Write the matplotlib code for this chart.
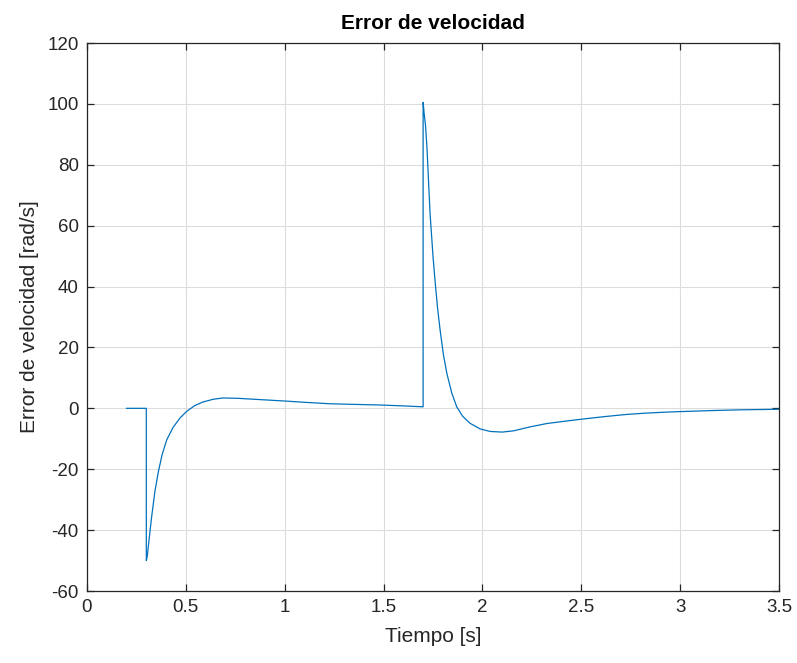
import matplotlib
matplotlib.use("Agg")
import matplotlib.pyplot as plt

tiempo = [0.2, 0.3, 0.3, 0.305, 0.315, 0.327, 0.343, 0.361, 0.38, 0.403, 0.435, 0.47,
          0.504, 0.545, 0.587, 0.64, 0.688, 0.76, 0.84, 0.92, 1.0, 1.12, 1.23, 1.35,
          1.48, 1.6, 1.7,
          1.7, 1.705, 1.712, 1.72, 1.735, 1.75, 1.76, 1.773, 1.786, 1.803, 1.82, 1.845,
          1.87, 1.9, 1.937, 1.99, 2.04, 2.1, 2.157, 2.24, 2.325, 2.42, 2.51, 2.62,
          2.73, 2.82, 2.91, 3.01, 3.15, 3.3, 3.5]
error = [0, 0, -50, -48.5, -42.5, -35.6, -27.5, -20.8, -15.2, -10.4, -6.3, -3.2,
         -1.0, 0.9, 2.1, 3.0, 3.4, 3.3, 3.0, 2.7, 2.4, 1.9, 1.5, 1.3,
         1.1, 0.8, 0.5,
         100.5, 97, 93, 85, 64.1, 50, 42.1, 33, 25.7, 17.5, 11.5, 5,
         0.5, -2.6, -4.9, -6.8, -7.6, -7.8, -7.4, -6.1, -5.0, -4.2, -3.5, -2.7,
         -2.0, -1.6, -1.3, -1.05, -0.75, -0.5, -0.3]

xticks = [0, 0.5, 1, 1.5, 2, 2.5, 3, 3.5]
xticklabels = ["0", "0.5", "1", "1.5", "2", "2.5", "3", "3.5"]
yticks = [-60, -40, -20, 0, 20, 40, 60, 80, 100, 120]
yticklabels = ["-60", "-40", "-20", "0", "20", "40", "60", "80", "100", "120"]

plt.rcParams['font.family'] = ['Liberation Sans', 'DejaVu Sans']
plt.rcParams['axes.unicode_minus'] = False

fig = plt.figure(figsize=(7.97, 6.63), dpi=100)
ax = fig.add_axes([87/797, (663-591)/663, (779-87)/797, (591-43)/663])

ax.plot(tiempo, error, color='#0072BD', linewidth=0.9)

ax.set_xlim(0, 3.5)
ax.set_ylim(-60, 120)
ax.set_xticks(xticks)
ax.set_xticklabels(xticklabels)
ax.set_yticks(yticks)
ax.set_yticklabels(yticklabels)
ax.grid(True, color='#dcdcdc', linewidth=0.8)
ax.set_axisbelow(True)

for s in ax.spines.values():
    s.set_color('#262626')
    s.set_linewidth(0.9)
ax.tick_params(direction='in', top=True, right=True, length=5, width=0.9,
               colors='#262626', labelsize=13.5, pad=6)
for lab in ax.get_xticklabels() + ax.get_yticklabels():
    lab.set_color('#262626')

ax.set_xlabel('Tiempo [s]', fontsize=15, color='#262626', labelpad=8)
ax.set_ylabel('Error de velocidad [rad/s]', fontsize=15, color='#262626', labelpad=6)
ax.set_title('Error de velocidad', fontsize=15, fontweight='bold', color='#000000', pad=10)

fig.savefig('out.png', dpi=100, facecolor='white')
